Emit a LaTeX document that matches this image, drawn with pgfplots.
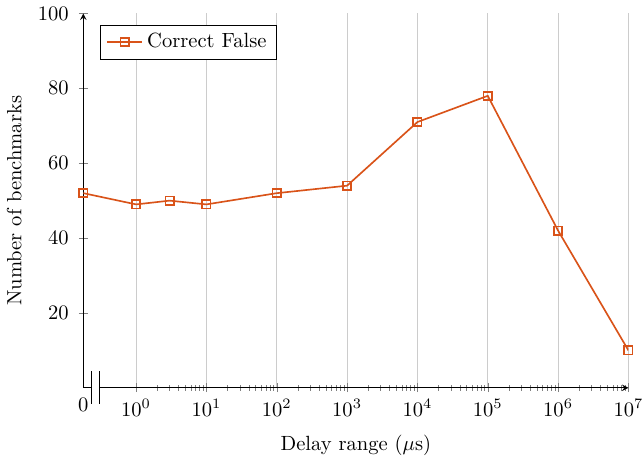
\documentclass[border=0pt]{standalone}
\usepackage{pgfplots}
\pgfplotsset{compat=1.18}
\definecolor{lineorange}{RGB}{217,83,25}

\begin{document}
\begin{tikzpicture}
\begin{axis}[
    scale only axis,
    width=265pt,
    height=182pt,
    xmode=log,
    log basis x=10,
    xmin=0.178, xmax=1e7,
    ymin=0, ymax=100,
    axis x line=bottom,
    axis y line=left,
    axis x discontinuity=parallel,
    xtick={1,10,100,1000,10000,100000,1000000,10000000},
    minor xtick={2,3,4,5,6,7,8,9,
        20,30,40,50,60,70,80,90,
        200,300,400,500,600,700,800,900,
        2000,3000,4000,5000,6000,7000,8000,9000,
        20000,30000,40000,50000,60000,70000,80000,90000,
        200000,300000,400000,500000,600000,700000,800000,900000,
        2000000,3000000,4000000,5000000,6000000,7000000,8000000,9000000},
    extra x ticks={0.178},
    extra x tick labels={$\vphantom{10^0}0$},
    extra x tick style={grid=none, major tick length=0pt},
    ytick={20,40,60,80,100},
    yticklabel style={xshift=-1.5pt},
    ylabel style={yshift=1pt},
    xmajorgrids=true,
    grid style={gray!40},
    xlabel={Delay range ($\mu$s)},
    ylabel={Number of benchmarks},
    legend pos=north west,
    legend cell align=left,
]
\addplot[color=lineorange, thick, mark=square, mark options={solid, thick}]
    coordinates {
        (0.178,52)
        (1,49)
        (3,50)
        (10,49)
        (100,52)
        (1000,54)
        (10000,71)
        (100000,78)
        (1000000,42)
        (10000000,10)
    };
\addlegendentry{Correct False}
\end{axis}
% the reference is cut a little at the right, through the last tick label
\coordinate (bbsw) at (current bounding box.south west);
\coordinate (bbne) at (current bounding box.north east);
\pgfresetboundingbox
\useasboundingbox ([yshift=-1pt]bbsw) rectangle ([xshift=-3pt]bbne);
\end{tikzpicture}
\end{document}
